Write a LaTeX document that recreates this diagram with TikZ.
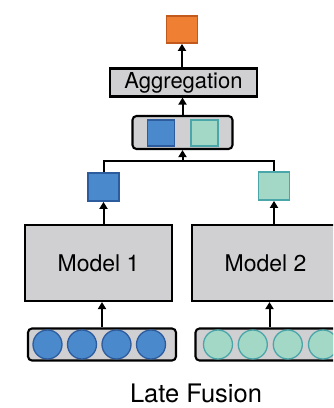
\documentclass[tikz,border=0pt]{standalone}
\usepackage{fontspec}
\setmainfont{TeX Gyre Heros}
\usetikzlibrary{arrows.meta}
\definecolor{boxgray}{HTML}{D0CFD1}
\definecolor{orfill}{HTML}{EE7F33}
\definecolor{ordraw}{HTML}{C15A1C}
\definecolor{blfill}{HTML}{4A89CC}
\definecolor{bldraw}{HTML}{2D5C9E}
\definecolor{tlfill}{HTML}{A3D8C7}
\definecolor{tldraw}{HTML}{4BA6AA}
\begin{document}
\begin{tikzpicture}[x=1pt,y=-1pt,
  gbox/.style={draw=black, fill=boxgray, line width=2.1pt, inner sep=0pt},
  arr/.style={-{Triangle[width=8pt,length=7pt]}, line width=2pt},
  conn/.style={line width=2pt},
  sqO/.style={draw=ordraw, fill=orfill, line width=1.8pt, inner sep=0pt},
  sqB/.style={draw=bldraw, fill=blfill, line width=1.8pt, inner sep=0pt},
  sqT/.style={draw=tldraw, fill=tlfill, line width=1.8pt, inner sep=0pt},
  circB/.style={circle, draw=bldraw, fill=blfill, line width=1.3pt, inner sep=0pt, minimum size=29pt},
  circT/.style={circle, draw=tldraw, fill=tlfill, line width=1.3pt, inner sep=0pt, minimum size=29pt}]
\useasboundingbox (0,0) rectangle (333,408);
\clip (0,0) rectangle (333,408);
% output
\node[sqO, minimum width=31pt, minimum height=27pt] (out) at (182,29.5) {};
\node[gbox, minimum width=147pt, minimum height=28pt, font=\fontsize{22}{26}\selectfont] (agg) at (183.5,82.5) {Aggregation};
% concatenated features
\node[gbox, rounded corners=4pt, minimum width=100pt, minimum height=33pt] (cat) at (182.5,132.5) {};
\node[sqB, minimum width=27pt, minimum height=26pt] (catb) at (161,133) {};
\node[sqT, minimum width=27pt, minimum height=26pt] (catt) at (204.7,133) {};
% per-model outputs
\node[sqB, minimum width=31pt, minimum height=28pt] (f1) at (103.5,187) {};
\node[sqT, minimum width=31pt, minimum height=28pt] (f2) at (274,186) {};
% models
\node[gbox, minimum width=147pt, minimum height=76pt, font=\fontsize{23}{27}\selectfont] (m1) at (98.5,263) {Model 1};
\node[gbox, minimum width=147pt, minimum height=76pt, font=\fontsize{23}{27}\selectfont] (m2) at (265.5,263) {Model 2};
% inputs
\node[gbox, rounded corners=4pt, minimum width=148pt, minimum height=32pt] (in1) at (102,344.5) {};
\node[gbox, rounded corners=4pt, minimum width=148pt, minimum height=32pt] (in2) at (269.5,344.5) {};
\foreach \x [count=\i] in {47.5,82,116.5,151} \node[circB] (a\i) at (\x,344.5) {};
\foreach \x [count=\i] in {218,252.8,287.8,323} \node[circT] (b\i) at (\x,344.5) {};
% title
\node[font=\fontsize{25.5}{30}\selectfont] (title) at (196,393) {Late Fusion};
% connectors
\coordinate (j) at (182.5,160.5);
\draw[arr] (in1.north) -- (in1.north |- m1.south);
\draw[arr] (in2.north) -- (in2.north |- m2.south);
\draw[arr] (f1.south |- m1.north) -- (f1.south);
\draw[arr] (f2.south |- m2.north) -- (f2.south);
\draw[conn] (f1.north) |- (j) -| (f2.north);
\draw[arr] (j) -- (cat.south);
\draw[arr] (cat.north) -- (cat.north |- agg.south);
\draw[arr] (out.south |- agg.north) -- (out.south);
\end{tikzpicture}
\end{document}
